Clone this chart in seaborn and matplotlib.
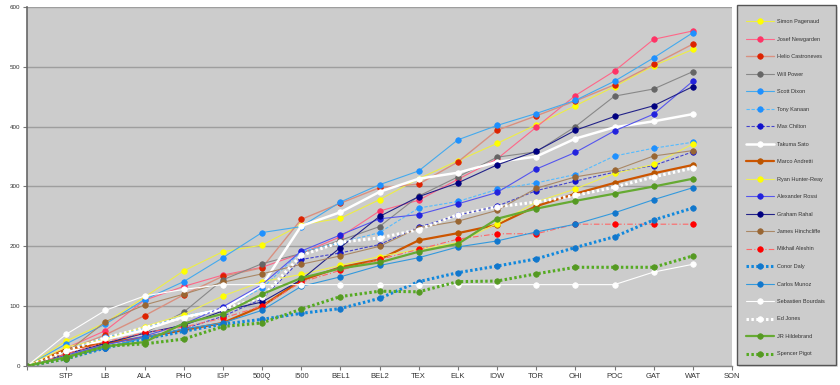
import pandas as pd
import seaborn as sns
import matplotlib.pyplot as plt
from matplotlib.patches import Rectangle

# Race columns (first slot is the season start, unlabeled)
races = ['', 'STP', 'LB', 'ALA', 'PHO', 'IGP', '500Q', 'I500', 'BEL1', 'BEL2',
         'TEX', 'ELK', 'IOW', 'TOR', 'OHI', 'POC', 'GAT', 'WAT', 'SON']

# Cumulative points (start .. WAT)
pagenaud = [0, 42, 72, 115, 159, 191, 202, 236, 247, 278, 313, 343, 372, 403, 435, 467, 502, 529]
newgarden = [0, 30, 59, 110, 133, 152, 165, 188, 216, 259, 277, 312, 346, 399, 452, 493, 546, 560]
castroneves = [0, 26, 52, 84, 119, 150, 164, 245, 272, 298, 304, 341, 394, 418, 443, 470, 504, 538]
power = [0, 15, 37, 55, 90, 144, 171, 188, 210, 233, 284, 316, 349, 358, 400, 451, 463, 492]
dixon = [0, 37, 70, 111, 141, 181, 223, 233, 274, 303, 326, 378, 402, 422, 444, 476, 515, 557]
kanaan = [0, 27, 48, 62, 84, 96, 130, 191, 206, 223, 264, 275, 295, 306, 320, 351, 364, 374]
chilton = [0, 14, 30, 48, 62, 83, 112, 178, 189, 203, 232, 252, 267, 293, 309, 324, 335, 358]
sato = [0, 22, 45, 60, 82, 95, 135, 234, 257, 291, 313, 323, 341, 350, 380, 399, 409, 421]
andretti = [0, 28, 38, 48, 60, 72, 100, 143, 165, 178, 210, 222, 236, 267, 288, 306, 322, 336]
hunter_reay = [0, 32, 45, 66, 86, 117, 141, 153, 168, 183, 195, 206, 238, 274, 296, 322, 337, 371]
rossi = [0, 18, 35, 50, 70, 99, 136, 192, 219, 246, 253, 271, 290, 329, 357, 393, 421, 476]
rahal = [0, 20, 38, 55, 68, 92, 107, 144, 198, 250, 283, 306, 336, 359, 394, 417, 435, 467]
hinchcliffe = [0, 22, 74, 102, 120, 140, 154, 170, 184, 200, 231, 242, 260, 297, 316, 327, 351, 360]
aleshin = [0, 20, 40, 56, 65, 80, 100, 140, 160, 178, 195, 212, 221, 221, 237, 237, 237, 237]
daly = [0, 12, 30, 45, 58, 70, 78, 88, 96, 113, 141, 156, 167, 179, 198, 216, 244, 264]
munoz = [0, 15, 30, 48, 62, 72, 93, 133, 149, 168, 181, 199, 209, 224, 237, 256, 278, 298]
bourdais = [0, 53, 93, 117, 128, 136, 136, 136, 136, 136, 136, 136, 136, 136, 136, 136, 157, 170]
jones = [0, 25, 47, 64, 81, 95, 115, 185, 207, 214, 228, 253, 266, 274, 285, 299, 316, 331]
hildebrand = [0, 15, 33, 40, 71, 87, 120, 147, 163, 173, 191, 204, 246, 263, 276, 288, 300, 313]
pigot = [0, 12, 33, 37, 45, 66, 72, 95, 116, 125, 124, 141, 142, 154, 165, 165, 165, 184]

drivers = ['Simon Pagenaud', 'Josef Newgarden', 'Helio Castroneves', 'Will Power',
           'Scott Dixon', 'Tony Kanaan', 'Max Chilton', 'Takuma Sato', 'Marco Andretti',
           'Ryan Hunter-Reay', 'Alexander Rossi', 'Graham Rahal', 'James Hinchcliffe',
           'Mikhail Aleshin', 'Conor Daly', 'Carlos Munoz', 'Sebastien Bourdais',
           'Ed Jones', 'JR Hildebrand', 'Spencer Pigot']
series = [pagenaud, newgarden, castroneves, power, dixon, kanaan, chilton, sato,
          andretti, hunter_reay, rossi, rahal, hinchcliffe, aleshin, daly, munoz,
          bourdais, jones, hildebrand, pigot]

# line colour, marker colour, linestyle, linewidth
solid = '-'
dashed = (0, (3, 1.5))
dotted = (0, (0.8, 0.8))
dashdot = (0, (5, 2, 1, 2))
styles = [
    ('#eeee44', '#ffff00', solid, 0.8),
    ('#ff6688', '#ff3366', solid, 0.8),
    ('#d99080', '#dd2200', solid, 1.0),
    ('#888888', '#666666', solid, 0.8),
    ('#44aaee', '#1e90ff', solid, 0.8),
    ('#55bbff', '#1e90ff', dashed, 0.8),
    ('#4444cc', '#1111cc', dashed, 0.8),
    ('#ffffff', '#ffffff', solid, 1.8),
    ('#cc5500', '#bb5500', solid, 1.6),
    ('#eeee55', '#ffff00', solid, 0.8),
    ('#5555ee', '#2222dd', solid, 0.8),
    ('#222288', '#000080', solid, 0.8),
    ('#aa8866', '#996633', solid, 0.8),
    ('#ff6666', '#ff0000', dashdot, 0.8),
    ('#1188dd', '#1177cc', dotted, 2.2),
    ('#3399dd', '#1177cc', solid, 0.8),
    ('#ffffff', '#ffffff', solid, 0.8),
    ('#ffffff', '#ffffff', dotted, 2.2),
    ('#66aa33', '#559922', solid, 1.6),
    ('#55aa22', '#559922', dotted, 2.2),
]

sns.set_style('white')
plt.rcParams['font.family'] = ['Liberation Sans', 'DejaVu Sans']

fig = plt.figure(figsize=(8.4, 3.85), dpi=100)
ax = fig.add_axes([27 / 840, 19 / 385, 705 / 840, 359 / 385])
ax.set_facecolor('#cccccc')

positions = list(range(len(pagenaud)))
for name, vals, (lc, mc, ls, lw) in zip(drivers, series, styles):
    df = pd.DataFrame({'race': positions, 'points': vals})
    sns.lineplot(data=df, x='race', y='points', ax=ax, color=lc, linestyle=ls,
                 linewidth=lw, marker='o', markersize=4, markerfacecolor=mc,
                 markeredgecolor=mc, markeredgewidth=0.5, label=name)

if ax.get_legend() is not None:
    ax.get_legend().remove()

ax.set_xlim(0, len(races) - 1)
ax.set_ylim(0, 600)
ax.set_xticks(range(len(races)))
ax.set_xticklabels(races, fontsize=5.5, color='#333333')
ax.set_yticks(range(0, 601, 100))
ax.set_yticklabels([str(v) for v in range(0, 601, 100)], fontsize=4.5, color='#333333')
ax.set_xlabel('')
ax.set_ylabel('')
ax.tick_params(axis='both', length=3, width=0.8, color='#777777', pad=2, bottom=True, left=True)
ax.yaxis.grid(True, color='#9e9e9e', linewidth=1)
ax.xaxis.grid(False)
ax.set_axisbelow(True)
for side in ['top', 'right']:
    ax.spines[side].set_visible(False)
ax.spines['left'].set_color('#666666')
ax.spines['left'].set_linewidth(1.2)
ax.spines['bottom'].set_color('#888888')
ax.spines['bottom'].set_linewidth(1.0)

# Legend box on the right
fig.patches.append(Rectangle((739 / 840, 18 / 385), 99 / 840, 360 / 385,
                             transform=fig.transFigure, facecolor='#dddddd',
                             edgecolor='none', zorder=0))
fig.patches.append(Rectangle((737 / 840, 20 / 385), 99 / 840, 360 / 385,
                             transform=fig.transFigure, facecolor='#cccccc',
                             edgecolor='#555555', linewidth=1, zorder=1))
handles, labels = ax.get_legend_handles_labels()
leg = fig.legend(handles, labels, loc='upper left', bbox_to_anchor=(746 / 840, 1 - 19 / 385),
                 frameon=False, fontsize=4, labelspacing=2.25, handlelength=5.0,
                 handletextpad=0.6, borderpad=0, borderaxespad=0)
for t in leg.get_texts():
    t.set_color('#333333')

fig.savefig('out.png', dpi=100)
